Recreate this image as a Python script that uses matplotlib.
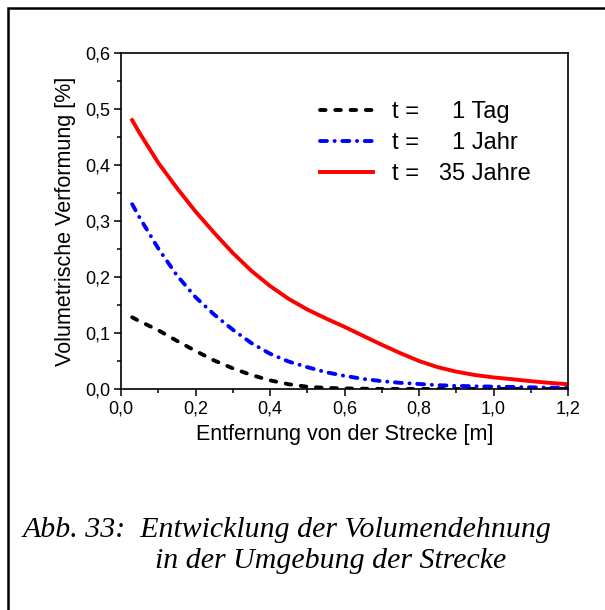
import numpy as np
import matplotlib.pyplot as plt
from matplotlib.patches import Rectangle

plt.rcParams['font.family'] = ['Liberation Sans', 'DejaVu Sans']
plt.rcParams['lines.scale_dashes'] = False

# Werte
x = [0.03, 0.05, 0.10, 0.15, 0.20, 0.25, 0.30, 0.35, 0.40, 0.45, 0.50, 0.55, 0.60,
     0.65, 0.70, 0.75, 0.80, 0.85, 0.90, 0.95, 1.00, 1.05, 1.10, 1.15, 1.20]
tag = [0.128, 0.121, 0.105, 0.086, 0.068, 0.051, 0.037, 0.025, 0.0155, 0.0085, 0.004,
       0.002, 0.001, 0.0005, 0.0, 0.0, 0.0, 0.0, 0.0, 0.0, 0.0, 0.0, 0.0, 0.0, 0.0]
jahr = [0.330, 0.306, 0.251, 0.203, 0.164, 0.133, 0.106, 0.082, 0.063, 0.049, 0.039,
        0.030, 0.0235, 0.018, 0.014, 0.011, 0.009, 0.0068, 0.0056, 0.0048, 0.0042,
        0.0036, 0.003, 0.0025, 0.002]
jahre35 = [0.480, 0.457, 0.404, 0.359, 0.317, 0.279, 0.243, 0.211, 0.184, 0.161, 0.142,
           0.126, 0.111, 0.095, 0.079, 0.064, 0.050, 0.039, 0.031, 0.025, 0.0207,
           0.0175, 0.014, 0.011, 0.0085]

labels = ['t =     1 Tag', 't =     1 Jahr', 't =   35 Jahre']
xticks = [0.0, 0.2, 0.4, 0.6, 0.8, 1.0, 1.2]
xticklabels = ['0,0', '0,2', '0,4', '0,6', '0,8', '1,0', '1,2']
yticks = [0.0, 0.1, 0.2, 0.3, 0.4, 0.5, 0.6]
yticklabels = ['0,0', '0,1', '0,2', '0,3', '0,4', '0,5', '0,6']

fig = plt.figure(figsize=(6.05, 6.10), dpi=100)
ax = fig.add_axes([121 / 605, 1 - 389 / 610, 447 / 605, 336 / 610])

ax.plot(x, tag, color='black', lw=2.8, linestyle=(0, (4, 7)),
        dash_capstyle='round', label=labels[0])
ax.plot(x, jahr, color='blue', lw=2.8, linestyle=(0, (5, 5.5, 0.1, 5.5)),
        dash_capstyle='round', label=labels[1])
ax.plot(x, jahre35, color='red', lw=2.8, label=labels[2])

ax.set_xlim(0, 1.2)
ax.set_ylim(0, 0.6)
ax.set_xticks(xticks)
ax.set_xticklabels(xticklabels)
ax.set_yticks(yticks)
ax.set_yticklabels(yticklabels)
ax.set_xticks(np.arange(0.1, 1.2, 0.2), minor=True)
ax.set_yticks(np.arange(0.05, 0.6, 0.1), minor=True)
ax.tick_params(which='major', direction='out', length=5, width=1.1, labelsize=13, pad=3)
ax.tick_params(which='minor', direction='out', length=3, width=1.1)
for s in ax.spines.values():
    s.set_linewidth(1.2)

ax.set_xlabel('Entfernung von der Strecke [m]', fontsize=15.5, labelpad=5)
ax.set_ylabel('Volumetrische Verformung [%]', fontsize=15.5, labelpad=6)

ax.legend(loc='upper left', bbox_to_anchor=(0.445, 0.857), frameon=False,
          fontsize=17, handlelength=2.25, handletextpad=0.8, labelspacing=0.38,
          borderpad=0, borderaxespad=0)

fig.patches.append(Rectangle((8 / 605, -0.05), 1.2, 1 - 8 / 610 + 0.05,
                             transform=fig.transFigure, fill=False,
                             edgecolor='black', lw=1.8))

fig.text(23 / 605, 1 - 537 / 610, 'Abb. 33:  Entwicklung der Volumendehnung',
         family='Liberation Serif', style='italic', fontsize=21.5, va='baseline')
fig.text(155 / 605, 1 - 568 / 610, 'in der Umgebung der Strecke',
         family='Liberation Serif', style='italic', fontsize=21.5, va='baseline')

fig.savefig('out.png', dpi=100)
